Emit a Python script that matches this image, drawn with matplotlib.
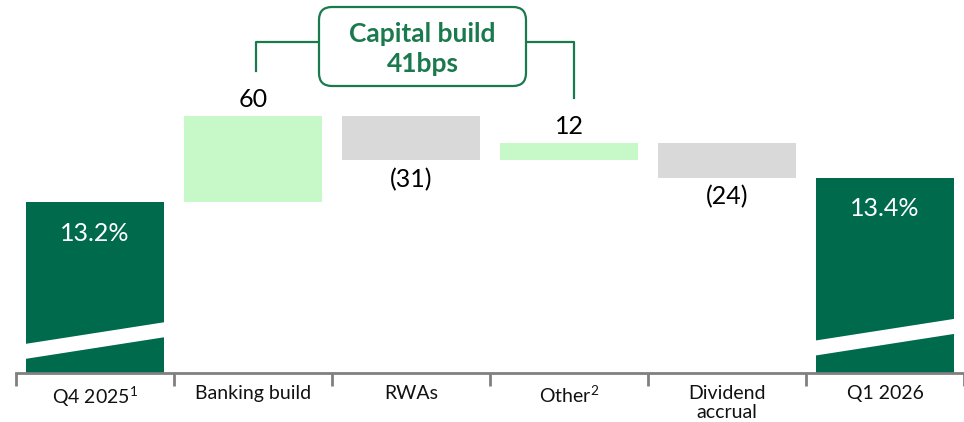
import matplotlib
matplotlib.use("Agg")
import matplotlib.pyplot as plt
from matplotlib.patches import Polygon, FancyBboxPatch
from matplotlib.transforms import IdentityTransform

plt.rcParams['font.family'] = ['Lato', 'DejaVu Sans']
plt.rcParams['mathtext.fontset'] = 'custom'
plt.rcParams['mathtext.rm'] = 'Lato'
plt.rcParams['mathtext.it'] = 'Lato'
plt.rcParams['mathtext.default'] = 'regular'

categories = ["Q4 2025$^{1}$", "Banking build", "RWAs", "Other$^{2}$", "Dividend\naccrual", "Q1 2026"]
start_ratio = 13.2   # %
end_ratio = 13.4     # %
changes_bps = [60, -31, 12, -24]
change_labels = ["60", "(31)", "12", "(24)"]
end_labels = ["13.2%", "13.4%"]
bracket_lines = ["Capital build", "41bps"]

DARK = "#006A4D"
LIGHT = "#C6F8C8"
GREY = "#D9D9D9"
AXIS = "#808080"
BOXGREEN = "#1A7A4E"

W, H = 964, 422
fig = plt.figure(figsize=(W/100, H/100), dpi=100)
ax = fig.add_axes([16/W, 49/H, 948/W, 373/H])

base = start_ratio * 100
ybot, ytop = 1200.7, 1461.0
ax.set_xlim(-0.5, 5.5)
ax.set_ylim(ybot, ytop)
px = (ytop - ybot) / 373.0   # bps per pixel

w = 0.873
ax.bar(0, base - ybot, bottom=ybot, width=w, color=DARK, zorder=2)
level = base
for i, c in enumerate(changes_bps):
    x = i + 1
    col = LIGHT if c > 0 else GREY
    ax.bar(x, c, bottom=level, width=w, color=col, zorder=2)
    if c > 0:
        ax.text(x, level + c + 9*px, change_labels[i], ha='center', va='baseline', fontsize=18, color='black')
    else:
        ax.text(x, level + c - 27*px, change_labels[i], ha='center', va='baseline', fontsize=18, color='black')
    level += c
end_level = level
ax.bar(5, end_level - ybot, bottom=ybot, width=w, color=DARK, zorder=2)

ax.text(0, base - 38.5*px, end_labels[0], ha='center', va='baseline', fontsize=18, color='white', zorder=4)
ax.text(5, end_level - 38.5*px, end_labels[1], ha='center', va='baseline', fontsize=18, color='white', zorder=4)

# break bands
def band(xc, yl, yr, thick):
    xl, xr = xc - w/2 - 0.01, xc + w/2 + 0.01
    pts = [(xl, yl), (xr, yr), (xr, yr - thick), (xl, yl - thick)]
    ax.add_patch(Polygon(pts, closed=True, color='white', zorder=3, lw=0))
band(0, base - (344 - 202)*px, base - (322 - 202)*px, 15*px)
band(5, end_level - (340 - 177)*px, end_level - (318 - 177)*px, 15*px)

# axis
for s in ['top', 'right', 'left']:
    ax.spines[s].set_visible(False)
ax.spines['bottom'].set_color(AXIS)
ax.spines['bottom'].set_linewidth(2)
ax.set_yticks([])
ax.set_xticks([i - 0.5 for i in range(7)])
ax.set_xticklabels([])
ax.tick_params(axis='x', length=9, width=2, color=AXIS)
for i, lab in enumerate(categories):
    ax.text(i, ybot - 12*px, lab, ha='center', va='top', fontsize=14, color='#111111',
            linespacing=1.15, clip_on=False)

# bracket
yt = ytop - 42*px
ax.plot([1.02, 1.02, 1.5], [ytop - 71*px, yt, yt], color=BOXGREEN, lw=1.6, clip_on=False, zorder=1)
ax.plot([2.7, 3.03, 3.03], [yt, yt, ytop - 98*px], color=BOXGREEN, lw=1.6, clip_on=False, zorder=1)

box = FancyBboxPatch((319, H - 86), 207, 79, boxstyle='round,pad=0,rounding_size=13',
                     transform=IdentityTransform(), fc='white', ec=BOXGREEN, lw=1.6, zorder=5)
fig.patches.append(box)
fig.text(422.5/W, (H - 42)/H, bracket_lines[0], ha='center', va='baseline', fontsize=19,
         fontweight='bold', color=BOXGREEN, zorder=6)
fig.text(422.5/W, (H - 72)/H, bracket_lines[1], ha='center', va='baseline', fontsize=19,
         fontweight='bold', color=BOXGREEN, zorder=6)

fig.savefig("out.png", dpi=100)
